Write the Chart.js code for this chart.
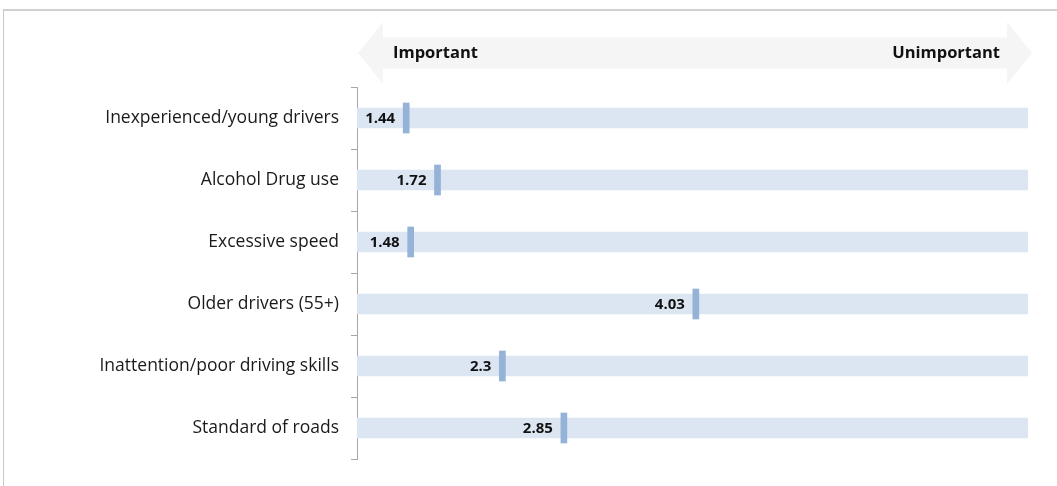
<!DOCTYPE html>
<html>
<head>
<meta charset="utf-8">
<script src="https://cdn.jsdelivr.net/npm/chart.js@4"></script>
<style>
  body { margin: 0; background: #fff; }
  #wrap { position: relative; width: 1057px; height: 486px; }
  #frame { position: absolute; left: 3px; top: 9px; width: 1100px; height: 500px;
           border-top: 2px solid #d0d0d0; border-left: 1px solid #c8c8c8; }
  canvas { position: absolute; left: 0; top: 0; }
</style>
</head>
<body>
<div id="wrap">
  <div id="frame"></div>
  <canvas id="myChart" width="1057" height="486"></canvas>
</div>
<script>
// categories and mean scores (1 = important, 7 = unimportant)
const categories = ['Inexperienced/young drivers', 'Alcohol Drug use', 'Excessive speed',
                    'Older drivers (55+)', 'Inattention/poor driving skills', 'Standard of roads']
const scores = [1.44, 1.72, 1.48, 4.03, 2.3, 2.85]
const scaleMin = 1
const scaleMax = 7
const arrowLabels = ['Important', 'Unimportant']

const markHalf = 0.027

// double headed arrow over the plot + value labels next to markers
const extras = {
  id: 'extras',
  beforeDatasetsDraw(chart) {
    const ctx = chart.ctx
    const a = chart.chartArea
    const l = a.left + 1, r = a.right + 4
    const mid = 53, body = 15.5, head = 31, hw = 25
    ctx.save()
    ctx.fillStyle = '#f5f5f5'
    ctx.beginPath()
    ctx.moveTo(l, mid)
    ctx.lineTo(l + hw, mid - head)
    ctx.lineTo(l + hw, mid - body)
    ctx.lineTo(r - hw, mid - body)
    ctx.lineTo(r - hw, mid - head)
    ctx.lineTo(r, mid)
    ctx.lineTo(r - hw, mid + head)
    ctx.lineTo(r - hw, mid + body)
    ctx.lineTo(l + hw, mid + body)
    ctx.lineTo(l + hw, mid + head)
    ctx.closePath()
    ctx.fill()
    ctx.fillStyle = '#111'
    ctx.font = 'bold 16.5px "Open Sans"'
    ctx.textBaseline = 'middle'
    ctx.textAlign = 'left'
    ctx.fillText(arrowLabels[0], 393, mid)
    ctx.textAlign = 'right'
    ctx.fillText(arrowLabels[1], 1000, mid)
    ctx.restore()
  },
  afterDatasetsDraw(chart) {
    const ctx = chart.ctx
    const xs = chart.scales.x, ys = chart.scales.y
    ctx.save()
    ctx.fillStyle = '#111'
    ctx.font = 'bold 15px "Open Sans"'
    ctx.textAlign = 'right'
    ctx.textBaseline = 'middle'
    scores.forEach(function (v, i) {
      ctx.fillText(v, xs.getPixelForValue(v - markHalf) - 8, ys.getPixelForValue(i) + 1)
    })
    ctx.restore()
  }
}

function updateGraph() {
  var ctx = document.getElementById('myChart').getContext('2d')
  var chart = new Chart(ctx, {
    type: 'bar',
    data: {
      labels: categories,
      datasets: [{
        // marker
        data: scores.map(function (v) { return [v - markHalf, v + markHalf] }),
        backgroundColor: '#95b3d7',
        barThickness: 30,
        borderSkipped: false
      }, {
        // full range background band
        data: scores.map(function () { return [scaleMin, scaleMax] }),
        backgroundColor: '#dce6f2',
        barThickness: 20,
        borderSkipped: false
      }]
    },
    options: {
      indexAxis: 'y',
      responsive: false,
      animation: false,
      layout: { padding: { top: 87, right: 29, bottom: 27, left: 0 } },
      datasets: { bar: { grouped: false } },
      plugins: { legend: { display: false }, tooltip: { enabled: false } },
      scales: {
        x: { min: scaleMin, max: scaleMax, display: false },
        y: {
          afterFit(scale) { scale.width = 357 },
          grid: { offset: true, drawOnChartArea: false, tickLength: 6, color: '#a6a6a6' },
          border: { color: '#a6a6a6' },
          ticks: { color: '#1a1a1a', padding: 12, font: { family: '"Open Sans"', size: 17.5 } }
        }
      }
    },
    plugins: [extras]
  })
}

updateGraph()
</script>
</body>
</html>
